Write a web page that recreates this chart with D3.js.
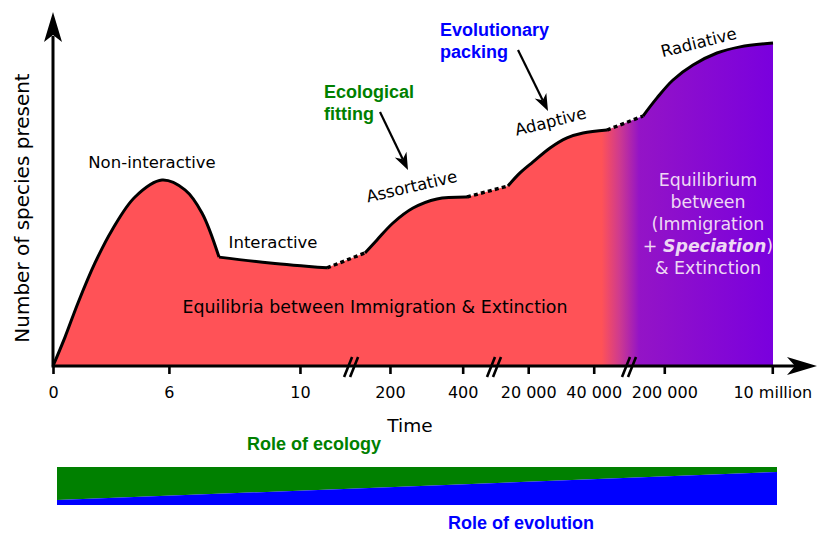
<!DOCTYPE html>
<html><head><meta charset="utf-8">
<script src="https://cdn.jsdelivr.net/npm/d3@7"></script>
<style>html,body{margin:0;padding:0;background:#fff;} svg{display:block;}</style>
</head><body>
<svg id="chart" width="818" height="533"></svg>
<script>
// ---------- data ----------
const tickLabels = ["0", "6", "10", "200", "400", "20 000", "40 000", "200 000", "10 million"];
const tickPositions = [0, 16.1, 34.3, 46.8, 56.9, 66.0, 75.1, 84.9, 99.9];
const breakPositions = [41.4, 61.25, 80.0];

// species richness (arbitrary units 0-100) over an abstract time position (0-100)
const nonInteractive = [[0,0],[1.67,8.9],[3.47,19.4],[5.83,31.7],[8.19,41.8],[11.39,52.0],[15.14,57.2],[18.33,54.2],[20.69,47.1],[23.06,33.5]];
const interactive    = [[23.06,33.5],[30.14,31.7],[38.06,30.2]];
const transition1    = [[38.06,30.2],[43.33,34.8]];
const assortative    = [[43.33,34.8],[45.0,38.8],[47.22,44.0],[50.0,48.6],[53.33,51.4],[57.5,52.0]];
const transition2    = [[57.5,52.0],[63.19,55.4]];
const adaptive       = [[63.19,55.4],[64.86,59.4],[66.67,62.8],[69.03,67.1],[71.39,70.2],[73.61,71.7],[76.94,72.6]];
const transition3    = [[76.94,72.6],[81.94,76.9]];
const radiative      = [[81.94,76.9],[83.89,82.5],[86.11,88.0],[88.89,92.6],[92.22,96.3],[95.42,98.2],[100,99.4]];

// role of evolution (share of the bar) at start / end of time
const evolutionShare = [[0, 0.13], [100, 0.868]];

// ---------- layout ----------
const svg = d3.select("#chart");
const x = d3.scaleLinear().domain([0, 100]).range([53, 773]);
const y = d3.scaleLinear().domain([0, 100]).range([366, 41]);

const segments = [
  {pts: nonInteractive, dotted: false},
  {pts: interactive, dotted: false},
  {pts: transition1, dotted: true},
  {pts: assortative, dotted: false},
  {pts: transition2, dotted: true},
  {pts: adaptive, dotted: false},
  {pts: transition3, dotted: true},
  {pts: radiative, dotted: false}
];

const smooth = d3.line().x(d => x(d[0])).y(d => y(d[1])).curve(d3.curveCatmullRom.alpha(0.5));
const straight = d3.line().x(d => x(d[0])).y(d => y(d[1]));
const segPath = s => (s.dotted || s.pts.length < 3 ? straight : smooth)(s.pts);

// gradient
const defs = svg.append("defs");
const grad = defs.append("linearGradient").attr("id", "fillGrad")
  .attr("gradientUnits", "userSpaceOnUse")
  .attr("x1", x(0)).attr("x2", x(100)).attr("y1", 0).attr("y2", 0);
const stops = [[0, "#FF5257"], [76.2, "#FF5257"], [78.7, "#CE3A8F"], [81.4, "#9414C6"], [100, "#7A00DE"]];
stops.forEach(s => grad.append("stop").attr("offset", s[0] / 100).attr("stop-color", s[1]));

// area fill
let areaD = segments.map((s, i) => i === 0 ? segPath(s) : segPath(s).replace(/^M/, "L")).join("");
areaD += `L${x(100)},${y(0)}L${x(0)},${y(0)}Z`;
svg.append("path").attr("d", areaD).attr("fill", "url(#fillGrad)");

// x axis
const xAxis = d3.axisBottom(x).tickValues(tickPositions)
  .tickFormat((d, i) => tickLabels[i]).tickSize(8).tickSizeOuter(0);
const gx = svg.append("g").attr("transform", `translate(0,${y(0)})`).call(xAxis);
gx.select(".domain").remove();
gx.attr("font-family", "DejaVu Sans").attr("font-size", 16);
gx.selectAll(".tick line").attr("stroke", "#000").attr("stroke-width", 2.6);
gx.selectAll(".tick text").attr("y", 32).attr("dy", 0).attr("fill", "#000");

svg.append("line").attr("x1", x(0)).attr("x2", 800).attr("y1", y(0)).attr("y2", y(0))
  .attr("stroke", "#000").attr("stroke-width", 3);
svg.append("path").attr("d", `M817,${y(0)}L787,${y(0)-9}L795,${y(0)}L787,${y(0)+9}Z`).attr("fill", "#000");

// breaks
breakPositions.forEach(b => {
  const g = svg.append("g").attr("transform", `translate(${x(b)},${y(0)})`);
  [[-7, 1], [-1, 7]].forEach(p => {
    g.append("line").attr("x1", p[0]).attr("y1", 11).attr("x2", p[1]).attr("y2", -9)
      .attr("stroke", "#000").attr("stroke-width", 2.6);
  });
});

// curve strokes
segments.forEach(s => {
  svg.append("path").attr("d", segPath(s)).attr("fill", "none")
    .attr("stroke", "#000").attr("stroke-width", s.dotted ? 3.4 : 3)
    .attr("stroke-dasharray", s.dotted ? "4,3.2" : null)
    .attr("stroke-linejoin", "round");
});

// y axis
svg.append("line").attr("x1", x(0)).attr("x2", x(0)).attr("y1", y(0) + 1.5).attr("y2", 36)
  .attr("stroke", "#000").attr("stroke-width", 3);
svg.append("path").attr("d", `M${x(0)},12L${x(0)+9},42L${x(0)},35L${x(0)-9},42Z`).attr("fill", "#000");

// axis titles
svg.append("text").attr("transform", "translate(29,208) rotate(-90)")
  .attr("text-anchor", "middle").attr("font-family", "DejaVu Sans").attr("font-size", 20)
  .attr("fill", "#000").text("Number of species present");
svg.append("text").attr("x", 410).attr("y", 432).attr("text-anchor", "middle")
  .attr("font-family", "DejaVu Sans").attr("font-size", 18.5).attr("fill", "#000").text("Time");

// stage labels
const label = (txt, px, py, rot, size) => svg.append("text")
  .attr("transform", `translate(${px},${py}) rotate(${rot})`)
  .attr("text-anchor", "middle").attr("font-family", "DejaVu Sans")
  .attr("font-size", size).attr("fill", "#000").text(txt);
label("Non-interactive", 152, 168, 0, 16.5);
label("Interactive", 273, 248, 0, 16.5);
label("Assortative", 413, 192, -13, 16.5);
label("Adaptive", 552, 127, -14, 16.5);
label("Radiative", 700, 48, -14, 16.5);
label("Equilibria between Immigration & Extinction", 375, 313, 0, 17.4);

// white block text
const wl = ["Equilibrium", "between", "(Immigration"];
wl.forEach((t, i) => svg.append("text").attr("x", 708).attr("y", 186 + i * 22)
  .attr("text-anchor", "middle").attr("font-family", "DejaVu Sans").attr("font-size", 17.4)
  .attr("fill", "#EED8F4").text(t));
const sp = svg.append("text").attr("x", 708).attr("y", 252).attr("text-anchor", "middle")
  .attr("font-family", "DejaVu Sans").attr("font-size", 17.4).attr("fill", "#EED8F4");
sp.append("tspan").text("+ ");
sp.append("tspan").attr("font-weight", "bold").attr("font-style", "italic").text("Speciation");
sp.append("tspan").text(")");
svg.append("text").attr("x", 708).attr("y", 274).attr("text-anchor", "middle")
  .attr("font-family", "DejaVu Sans").attr("font-size", 17.4).attr("fill", "#EED8F4").text("& Extinction");

// colored annotations
const bold = (lines, px, py, color) => lines.forEach((t, i) => svg.append("text")
  .attr("x", px).attr("y", py + i * 22).attr("font-family", "Liberation Sans, Arial, sans-serif")
  .attr("font-weight", "bold").attr("font-size", 18).attr("fill", color).text(t));
bold(["Ecological", "fitting"], 324, 98, "#008000");
bold(["Evolutionary", "packing"], 440, 36, "#0000FF");

function arrow(x1, y1, x2, y2) {
  const dx = x2 - x1, dy = y2 - y1, len = Math.hypot(dx, dy);
  const ux = dx / len, uy = dy / len, nx = -uy, ny = ux;
  const L = 17, w = 6.5, notch = 5;
  const bx = x2 - ux * L, by = y2 - uy * L;
  const mx = x2 - ux * (L - notch), my = y2 - uy * (L - notch);
  svg.append("line").attr("x1", x1).attr("y1", y1).attr("x2", mx).attr("y2", my)
    .attr("stroke", "#000").attr("stroke-width", 2.2);
  svg.append("path").attr("d", `M${x2},${y2}L${bx + nx * w},${by + ny * w}L${mx},${my}L${bx - nx * w},${by - ny * w}Z`)
    .attr("fill", "#000");
}
arrow(380, 112, 408, 170);
arrow(518, 50, 548, 111);

// bottom bar
const bx = d3.scaleLinear().domain([0, 100]).range([57, 777]);
const by = d3.scaleLinear().domain([0, 1]).range([505, 467]);
svg.append("path").datum(evolutionShare)
  .attr("d", d3.area().x(d => bx(d[0])).y0(by(1)).y1(d => by(d[1])))
  .attr("fill", "#008000");
svg.append("path").datum(evolutionShare)
  .attr("d", d3.area().x(d => bx(d[0])).y0(by(0)).y1(d => by(d[1])))
  .attr("fill", "#0000FF");
svg.append("text").attr("x", 314).attr("y", 450).attr("text-anchor", "middle")
  .attr("font-family", "Liberation Sans, Arial, sans-serif").attr("font-weight", "bold")
  .attr("font-size", 18).attr("fill", "#008000").text("Role of ecology");
svg.append("text").attr("x", 521).attr("y", 529).attr("text-anchor", "middle")
  .attr("font-family", "Liberation Sans, Arial, sans-serif").attr("font-weight", "bold")
  .attr("font-size", 18).attr("fill", "#0000FF").text("Role of evolution");
</script>
</body></html>
